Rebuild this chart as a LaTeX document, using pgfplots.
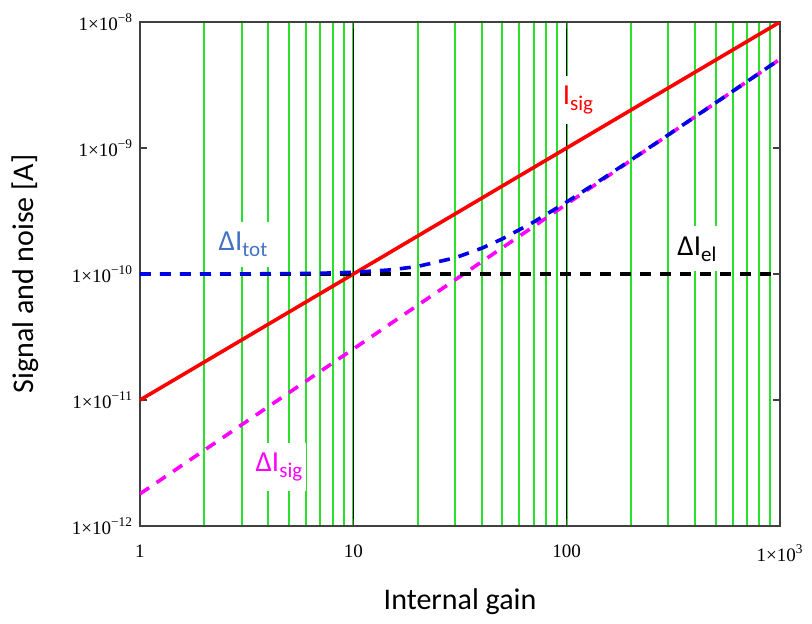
\documentclass[border=0pt]{standalone}
\usepackage{fontspec}
\setmainfont{Carlito}
\newfontfamily\tickfont{Liberation Serif}
\usepackage{pgfplots}
\pgfplotsset{compat=1.18}
\usetikzlibrary{calc}

\definecolor{gridgreen}{RGB}{40,225,40}
\definecolor{axisgray}{RGB}{64,64,64}
\definecolor{noiseblue}{RGB}{0,0,230}
\definecolor{labelblue}{RGB}{68,114,196}
\definecolor{sigmagenta}{RGB}{255,0,255}

\newcommand{\lbl}[2]{{\fontsize{14.5}{15}\selectfont #1\raisebox{-0.45ex}{\fontsize{10.5}{11}\selectfont #2}}}
\newcommand{\tk}[1]{1×10\textsuperscript{−#1}}

\begin{document}
\begin{tikzpicture}
\begin{axis}[
    name=ax,
    xmode=log, ymode=log,
    scale only axis,
    width=320pt, height=252pt,
    xmin=1, xmax=1000,
    ymin=1e-12, ymax=1e-8,
    axis line style={axisgray, line width=0.8pt},
    xtick={1,10,100,1000},
    xticklabels={1,10,100,1×10\textsuperscript{3}},
    ytick={1e-12,1e-11,1e-10,1e-9,1e-8},
    yticklabels={\tk{12},\tk{11},\tk{10},\tk{9},\tk{8}},
    ticklabel style={font=\tickfont\fontsize{9.5}{11}\selectfont},
    xticklabel style={yshift=-6pt},
    yminorticks=false,
    major tick length=3.5pt,
    minor tick length=0pt,
    tick style={axisgray, line width=0.8pt},
    xmajorgrids=true, xminorgrids=true,
    major grid style={black, line width=0.8pt},
    minor grid style={gridgreen, line width=1pt},
    xlabel={Internal gain},
    ylabel={Signal and noise [A]},
    label style={font=\fontsize{15}{17}\selectfont},
    xlabel style={at={(axis description cs:0.5,0)}, anchor=center, yshift=-38pt},
    ylabel style={at={(axis description cs:-0.18,0.5)}, anchor=center},
    clip=true,
]
% signal current
\addplot[red, line width=1.8pt] coordinates {
    (1,1e-11) (10,1e-10) (100,1e-9) (1000,1e-8)
};
% signal shot noise
\addplot[sigmagenta, line width=1.8pt, dash pattern=on 5.5pt off 4.5pt] coordinates {
    (1,1.80e-12) (2,3.99e-12) (3,6.37e-12) (5,1.146e-11) (10,2.54e-11)
    (20,5.64e-11) (30,8.99e-11) (50,1.619e-10) (100,3.59e-10)
    (200,7.97e-10) (300,1.271e-9) (500,2.286e-9) (1000,5.07e-9)
};
% electronics noise
\addplot[black, line width=1.8pt, dash pattern=on 5.5pt off 4.5pt] coordinates {
    (1,1e-10) (1000,1e-10)
};
% total noise
\addplot[noiseblue, line width=1.8pt, dash pattern=on 5.5pt off 4.5pt] coordinates {
    (1,1.0002e-10) (2,1.0008e-10) (3,1.002e-10) (5,1.0066e-10) (7,1.0141e-10)
    (10,1.0318e-10) (15,1.079e-10) (20,1.148e-10) (30,1.345e-10)
    (40,1.602e-10) (50,1.903e-10) (70,2.585e-10) (100,3.727e-10)
    (150,5.81e-10) (200,8.03e-10) (300,1.275e-9) (500,2.288e-9) (1000,5.07e-9)
};
\node[fill=white, inner xsep=2pt, inner ysep=5pt, text=red] at (axis cs:113,2.4e-9) {\lbl{I}{sig}};
\node[fill=white, inner xsep=2pt, inner ysep=5pt, text=labelblue] at (axis cs:3.04,1.73e-10) {\lbl{ΔI}{tot}};
\node[fill=white, inner xsep=2pt, inner ysep=5pt, text=black] at (axis cs:408,1.58e-10) {\lbl{ΔI}{el}};
\node[fill=white, inner xsep=2pt, inner ysep=5pt, text=sigmagenta] at (axis cs:4.48,2.94e-12) {\lbl{ΔI}{sig}};
\end{axis}
\pgfresetboundingbox
\path ($(ax.south west)+(-70pt,-49pt)$) rectangle ($(ax.north east)+(16pt,11pt)$);
\end{tikzpicture}
\end{document}
